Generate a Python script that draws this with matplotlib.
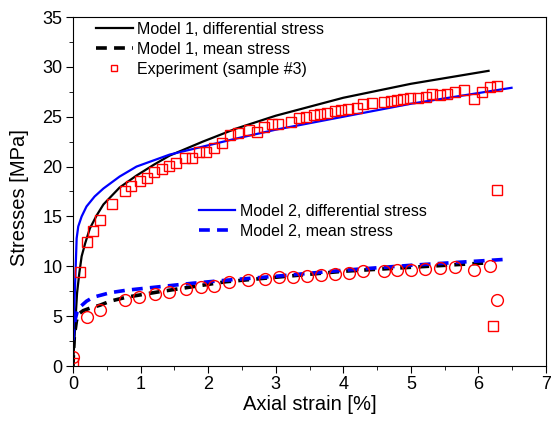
import matplotlib
matplotlib.use("Agg")
import matplotlib.pyplot as plt
from matplotlib.ticker import MultipleLocator

plt.rcParams['font.family'] = ['Liberation Sans', 'DejaVu Sans']

# --- dados ---
# Experimento: tensão diferencial (quadrados)
exp_diff_x = [0.00, 0.11, 0.20, 0.29, 0.40, 0.57, 0.77, 0.86, 0.99, 1.09, 1.20, 1.32, 1.42, 1.53,
              1.66, 1.76, 1.87, 1.97, 2.09, 2.20, 2.32, 2.44, 2.60, 2.73, 2.83, 2.94, 3.04,
              3.23, 3.35, 3.45, 3.56, 3.66, 3.76, 3.87, 3.97, 4.07, 4.20, 4.29, 4.42, 4.60,
              4.70, 4.79, 4.89, 4.99, 5.10, 5.22, 5.32, 5.43, 5.54, 5.66, 5.79, 5.94, 6.05,
              6.17, 6.28, 6.27, 6.22]
exp_diff_y = [0.3, 9.4, 12.4, 13.5, 14.6, 16.2, 17.55, 18.1, 18.6, 18.9, 19.5, 19.8, 20.1, 20.4,
              20.9, 20.9, 21.5, 21.5, 21.9, 22.4, 23.2, 23.4, 23.7, 23.5, 24.0, 24.3, 24.3,
              24.5, 24.9, 25.0, 25.2, 25.3, 25.4, 25.6, 25.7, 25.8, 25.9, 26.3, 26.4, 26.5,
              26.6, 26.7, 26.8, 26.85, 26.85, 26.95, 27.3, 27.2, 27.25, 27.5, 27.7, 26.75, 27.5,
              27.95, 28.1, 17.7, 4.0]

# Experimento: tensão média (círculos)
exp_mean_x = [0.00, 0.20, 0.40, 0.77, 0.98, 1.21, 1.42, 1.67, 1.89, 2.08, 2.31, 2.59, 2.84,
              3.05, 3.25, 3.47, 3.67, 3.88, 4.08, 4.29, 4.60, 4.79, 5.00, 5.21, 5.43, 5.66,
              5.93, 6.17, 6.27]
exp_mean_y = [0.93, 4.9, 5.6, 6.6, 6.95, 7.2, 7.4, 7.7, 7.9, 8.05, 8.4, 8.6, 8.7,
              8.9, 8.9, 9.05, 9.1, 9.2, 9.3, 9.5, 9.55, 9.6, 9.6, 9.7, 9.8, 9.9,
              9.6, 10.0, 6.6]

# Modelo 1
m1_diff_x = [0.0, 0.02, 0.04, 0.06, 0.093, 0.128, 0.18, 0.25, 0.35, 0.45, 0.69, 0.94, 1.2,
             1.43, 1.92, 2.41, 3.0, 4.0, 5.0, 6.15]
m1_diff_y = [0.0, 2.5, 5.0, 7.3, 9.3, 11.0, 12.3, 13.8, 15.1, 16.2, 17.9, 19.1, 20.2,
             21.1, 22.5, 23.8, 25.1, 26.9, 28.3, 29.6]
m1_mean_x = [0.0, 0.01, 0.02, 0.05, 0.08, 0.15, 0.25, 0.4, 0.55, 0.79, 1.28, 1.77, 2.26,
             3.0, 4.0, 5.0, 6.15]
m1_mean_y = [0.0, 1.8, 3.0, 4.5, 5.2, 5.55, 5.8, 6.1, 6.5, 6.9, 7.45, 7.95, 8.45,
             8.9, 9.5, 9.9, 10.35]

# Modelo 2
m2_diff_x = [0.0, 0.02, 0.04, 0.054, 0.078, 0.128, 0.2, 0.32, 0.45, 0.69, 0.94, 1.43, 1.92,
             2.41, 3.0, 4.0, 5.0, 6.49]
m2_diff_y = [2.5, 6.0, 10.0, 12.8, 14.0, 15.0, 16.0, 17.0, 17.8, 19.0, 20.0, 21.2, 22.0,
             22.8, 23.7, 25.0, 26.3, 27.9]
m2_mean_x = [0.0, 0.01, 0.03, 0.06, 0.1, 0.2, 0.3, 0.55, 0.79, 1.28, 1.77, 2.26, 3.0, 4.0,
             5.0, 6.41]
m2_mean_y = [2.6, 3.6, 4.6, 5.4, 5.9, 6.5, 6.9, 7.35, 7.6, 7.95, 8.3, 8.6, 9.0, 9.6,
             10.1, 10.7]

# --- figura ---
fig = plt.figure(figsize=(5.51, 4.23), dpi=100)
ax = fig.add_axes([73 / 551, 57 / 423, 473 / 551, 349 / 423])

l1, = ax.plot(m1_diff_x, m1_diff_y, color='black', lw=1.6, label='Model 1, differential stress')
l2, = ax.plot(m1_mean_x, m1_mean_y, color='black', lw=2.6, ls=(0, (3, 2)), label='Model 1, mean stress')
l3, = ax.plot(m2_diff_x, m2_diff_y, color='#0000ff', lw=1.6, label='Model 2, differential stress')
l4, = ax.plot(m2_mean_x, m2_mean_y, color='#0000ff', lw=2.6, ls=(0, (3, 2)), label='Model 2, mean stress')
s1, = ax.plot(exp_diff_x, exp_diff_y, ls='none', marker='s', ms=7.5, mfc='none', mec='red',
              mew=1.0, label='Experiment (sample #3)')
ax.plot(exp_mean_x, exp_mean_y, ls='none', marker='o', ms=8.5, mfc='none', mec='red', mew=1.0)

ax.set_xlim(0, 7)
ax.set_ylim(0, 35)
ax.xaxis.set_major_locator(MultipleLocator(1))
ax.xaxis.set_minor_locator(MultipleLocator(0.5))
ax.yaxis.set_major_locator(MultipleLocator(5))
ax.yaxis.set_minor_locator(MultipleLocator(2.5))
ax.tick_params(which='both', direction='out', top=False, right=False, labelsize=13)
ax.tick_params(which='major', length=5, pad=2.5)
ax.tick_params(which='minor', length=3)
ax.set_xlabel('Axial strain [%]', fontsize=14.5, labelpad=1)
ax.set_ylabel('Stresses [MPa]', fontsize=14.5)
ax.yaxis.set_label_coords(-0.093, 0.484)

leg1 = ax.legend(handles=[l1, l2, s1], loc='upper left', bbox_to_anchor=(0.035, 1.004),
                 frameon=False, fontsize=11.5, handlelength=2.3, handletextpad=0.3,
                 labelspacing=0.3, markerscale=0.65, borderaxespad=0)
ax.add_artist(leg1)
ax.legend(handles=[l3, l4], loc='upper left', bbox_to_anchor=(0.252, 0.483),
          frameon=False, fontsize=11.5, handlelength=2.3, handletextpad=0.3,
          labelspacing=0.3, borderaxespad=0)

fig.savefig('out.png', dpi=100)
